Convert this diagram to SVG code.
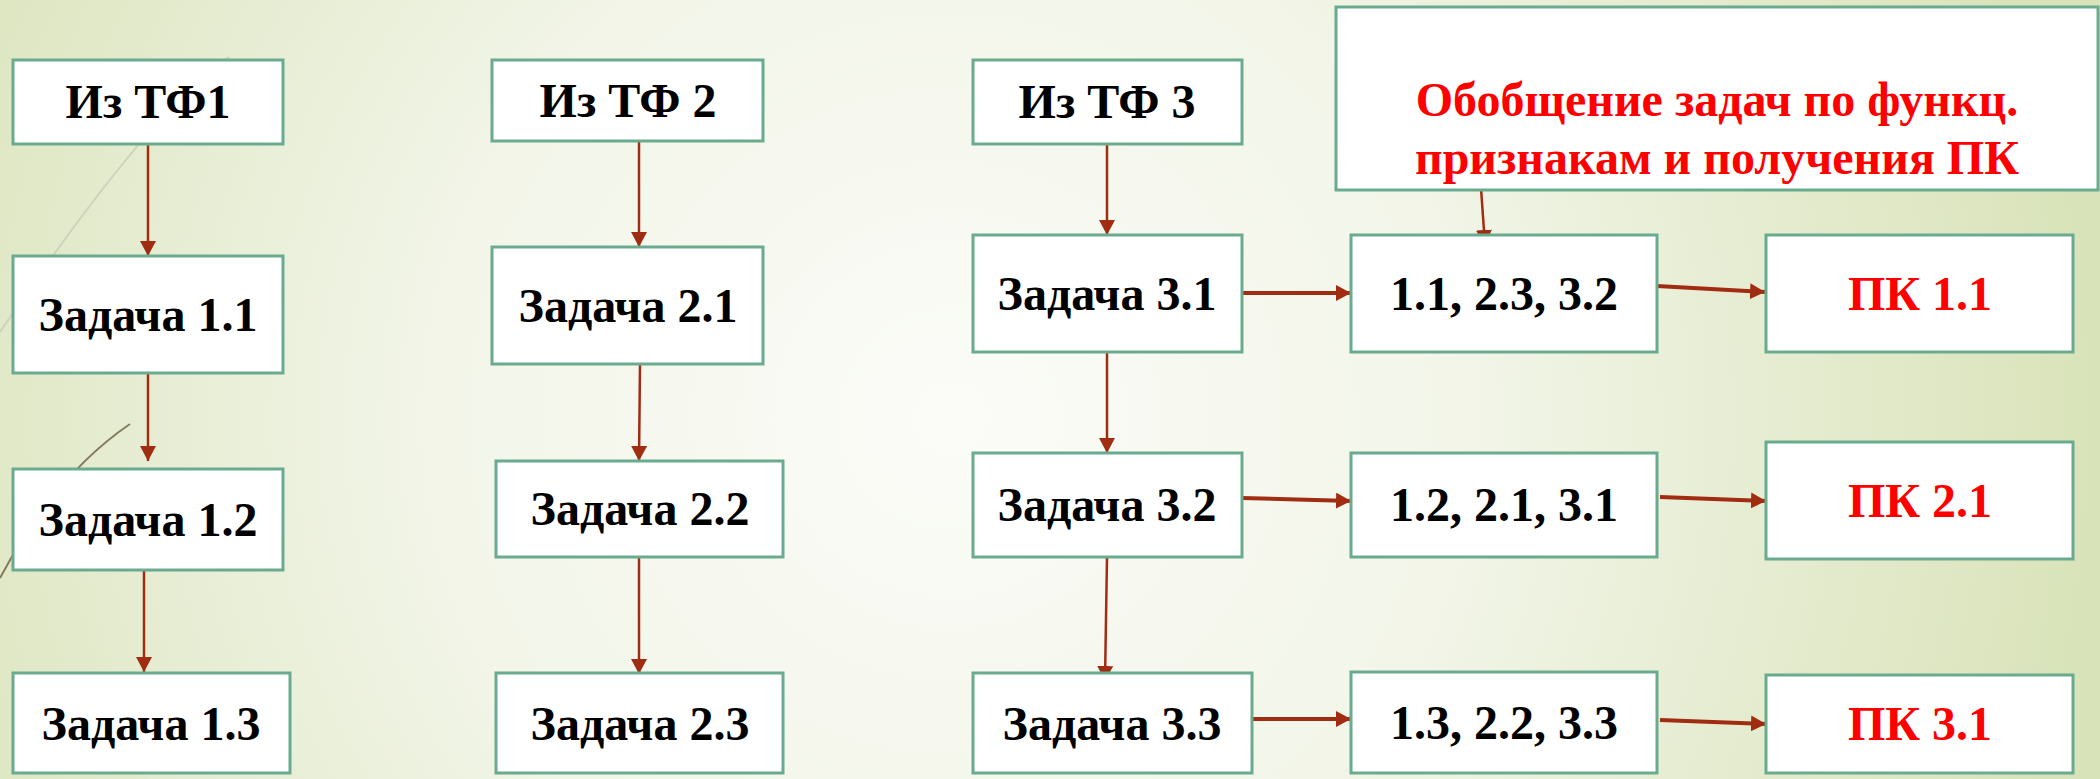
<svg xmlns="http://www.w3.org/2000/svg" width="2100" height="779" viewBox="0 0 2100 779">
<defs>
<radialGradient id="bg" gradientUnits="userSpaceOnUse" cx="950" cy="420" r="1150">
<stop offset="0" stop-color="#fbfcf8"/>
<stop offset="0.45" stop-color="#f2f5e8"/>
<stop offset="1" stop-color="#d9e3b9"/>
</radialGradient>
<marker id="ah" markerUnits="userSpaceOnUse" markerWidth="15" markerHeight="16" viewBox="0 0 15 16" refX="15" refY="8" orient="auto">
<path d="M0,0 L15,8 L0,16 Z" fill="#a02c12"/>
</marker>
</defs>
<style>
.box{fill:#ffffff;stroke:#68ab8f;stroke-width:3}
.t{font-family:"Liberation Serif","Times New Roman",serif;font-weight:bold;font-size:48px;text-anchor:middle;fill:#000000}
.r{fill:#ff0000}
.c{stroke:#a02c12;fill:none;stroke-width:2.5}
.h{stroke-width:4}
</style>
<rect x="0" y="0" width="2100" height="779" fill="url(#bg)"/>
<g id="decor" fill="none">
<path d="M229,57 Q150,110 0,332" stroke="#cfd2bd" stroke-width="2"/>
<path d="M130,424 Q55,475 0,578" stroke="#857a60" stroke-width="2"/>
</g>
<g id="connectors">
<line class="c" x1="148" y1="144" x2="148" y2="256" marker-end="url(#ah)"/>
<line class="c" x1="148" y1="373" x2="148" y2="461" marker-end="url(#ah)"/>
<line class="c" x1="144" y1="570" x2="144" y2="672" marker-end="url(#ah)"/>
<line class="c" x1="639" y1="133" x2="639" y2="247" marker-end="url(#ah)"/>
<line class="c" x1="640" y1="364" x2="639" y2="461" marker-end="url(#ah)"/>
<line class="c" x1="639" y1="557" x2="639" y2="674" marker-end="url(#ah)"/>
<line class="c" x1="1107" y1="144" x2="1107" y2="235" marker-end="url(#ah)"/>
<line class="c" x1="1107" y1="348" x2="1107" y2="453" marker-end="url(#ah)"/>
<line class="c" x1="1107" y1="557" x2="1105" y2="681" marker-end="url(#ah)"/>
<line class="c" x1="1481" y1="188" x2="1485" y2="245" marker-end="url(#ah)"/>
<line class="c h" x1="1242" y1="293" x2="1351" y2="293" marker-end="url(#ah)"/>
<line class="c h" x1="1657" y1="286" x2="1765" y2="292" marker-end="url(#ah)"/>
<line class="c h" x1="1242" y1="498" x2="1351" y2="501" marker-end="url(#ah)"/>
<line class="c h" x1="1660" y1="497" x2="1766" y2="501" marker-end="url(#ah)"/>
<line class="c h" x1="1252" y1="719" x2="1351" y2="719" marker-end="url(#ah)"/>
<line class="c h" x1="1660" y1="720" x2="1766" y2="724" marker-end="url(#ah)"/>
</g>
<g id="tf1"><rect class="box" x="13" y="60" width="270" height="84"/><text class="t" x="148" y="118">Из ТФ1</text></g>
<g id="t11"><rect class="box" x="13" y="256" width="270" height="117"/><text class="t" x="148" y="331">Задача 1.1</text></g>
<g id="t12"><rect class="box" x="13" y="469" width="270" height="101"/><text class="t" x="148" y="536">Задача 1.2</text></g>
<g id="t13"><rect class="box" x="13" y="673" width="277" height="100"/><text class="t" x="151" y="740">Задача 1.3</text></g>
<g id="tf2"><rect class="box" x="492" y="60" width="271" height="81"/><text class="t" x="628" y="117">Из ТФ 2</text></g>
<g id="t21"><rect class="box" x="492" y="247" width="271" height="117"/><text class="t" x="628" y="322">Задача 2.1</text></g>
<g id="t22"><rect class="box" x="496" y="461" width="287" height="96"/><text class="t" x="640" y="525">Задача 2.2</text></g>
<g id="t23"><rect class="box" x="496" y="673" width="287" height="100"/><text class="t" x="640" y="740">Задача 2.3</text></g>
<g id="tf3"><rect class="box" x="973" y="60" width="269" height="84"/><text class="t" x="1107" y="118">Из ТФ 3</text></g>
<g id="t31"><rect class="box" x="973" y="235" width="269" height="117"/><text class="t" x="1107" y="310">Задача 3.1</text></g>
<g id="t32"><rect class="box" x="973" y="453" width="269" height="104"/><text class="t" x="1107" y="521">Задача 3.2</text></g>
<g id="t33"><rect class="box" x="973" y="673" width="279" height="100"/><text class="t" x="1112" y="740">Задача 3.3</text></g>
<g id="summary"><rect class="box" x="1336" y="7" width="762" height="183"/><text class="t r" x="1717" y="116">Обобщение задач по функц.</text><text class="t r" x="1717" y="174">признакам и получения ПК</text></g>
<g id="c1"><rect class="box" x="1351" y="235" width="306" height="117"/><text class="t" x="1504" y="310">1.1, 2.3, 3.2</text></g>
<g id="c2"><rect class="box" x="1351" y="453" width="306" height="104"/><text class="t" x="1504" y="521">1.2, 2.1, 3.1</text></g>
<g id="c3"><rect class="box" x="1351" y="672" width="306" height="101"/><text class="t" x="1504" y="739">1.3, 2.2, 3.3</text></g>
<g id="pk1"><rect class="box" x="1766" y="235" width="307" height="117"/><text class="t r" x="1920" y="310">ПК 1.1</text></g>
<g id="pk2"><rect class="box" x="1766" y="442" width="307" height="117"/><text class="t r" x="1920" y="517">ПК 2.1</text></g>
<g id="pk3"><rect class="box" x="1766" y="675" width="307" height="98"/><text class="t r" x="1920" y="740">ПК 3.1</text></g>
</svg>
